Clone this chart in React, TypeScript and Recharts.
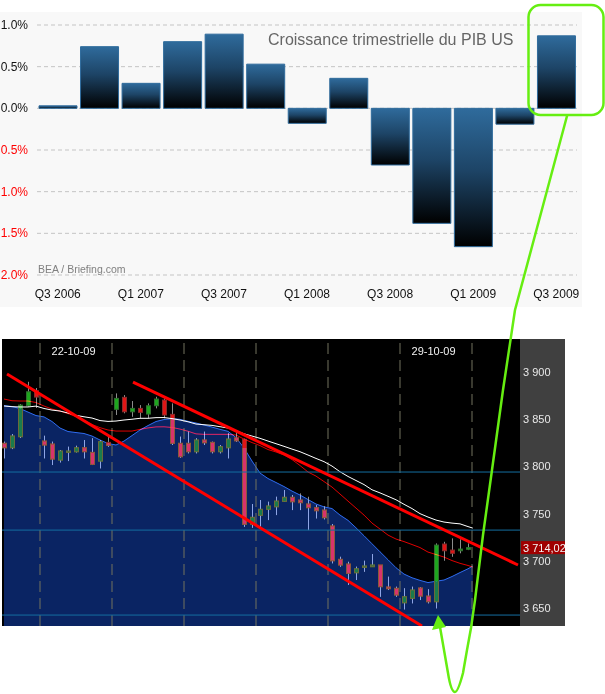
import React from 'react';
import {
  BarChart, Bar, XAxis, YAxis, CartesianGrid, ComposedChart, Area, Line, ReferenceLine,
} from 'recharts';

const FONT = '"Liberation Sans", Arial, sans-serif';

// ---------- Top chart: quarterly US GDP growth ----------
const quarters = ['Q3 2006', 'Q4 2006', 'Q1 2007', 'Q2 2007', 'Q3 2007', 'Q4 2007', 'Q1 2008',
  'Q2 2008', 'Q3 2008', 'Q4 2008', 'Q1 2009', 'Q2 2009', 'Q3 2009'];
const gdpGrowth = [0.03, 0.74, 0.30, 0.80, 0.89, 0.53, -0.18, 0.36, -0.68, -1.38, -1.66, -0.19, 0.87];
const gdpTicks = [1, 0.5, 0, -0.5, -1, -1.5, -2];
const gdpTitle = 'Croissance trimestrielle du PIB US';
const gdpSource = 'BEA / Briefing.com';

// ---------- Bottom chart: hourly candles ----------
const openPx = [3824.5, 3819.8, 3831.5, 3864.3, 3880.2, 3826.9, 3823.7, 3806.8, 3814.9, 3815.6,
  3819.8, 3814.9, 3805.7, 3825.5, 3860.5, 3873.2, 3857.9, 3861.5, 3855.5, 3864.3,
  3870.3, 3855.2, 3824.5, 3824.5, 3815.6, 3828, 3825.5, 3815.6, 3819.8, 3830.4,
  3828.7, 3738.7, 3748.2, 3754.6, 3757.3, 3763, 3767.3, 3764.4, 3760.2, 3756.3,
  3753.8, 3736.9, 3701.6, 3696.6, 3687.4, 3693.1, 3693.8, 3695.6, 3672.3, 3670.9,
  3655.6, 3660.3, 3671.2, 3662.7, 3656.7, 3717.8, 3711.4, 3710.7, 3712.2];
const highPx = [3826.2, 3834.3, 3866.1, 3889.7, 3883.1, 3832.5, 3826.2, 3817.4, 3820.9, 3821.9,
  3828, 3829.8, 3828, 3831.5, 3877.4, 3875.6, 3869.3, 3865, 3866.8, 3873.8,
  3872.1, 3866.8, 3831.5, 3836.8, 3829.8, 3836.8, 3826.2, 3822.7, 3835.1, 3836.8,
  3829.5, 3760.2, 3764.4, 3762.6, 3767.9, 3775, 3769.7, 3771.5, 3767.9, 3759.1,
  3758.1, 3739, 3704.3, 3699, 3693.8, 3700.1, 3707.2, 3695.6, 3683.2, 3672.6,
  3670.9, 3672.6, 3671.9, 3669.8, 3718.5, 3720.2, 3723.8, 3722.8, 3718.5];
const lowPx = [3808.6, 3818.4, 3830.1, 3863.2, 3861.9, 3808.6, 3801.5, 3804.3, 3805.7, 3814.9,
  3808.6, 3801.5, 3798, 3820.9, 3854.5, 3856.3, 3852.6, 3851, 3851, 3861.5,
  3851, 3822.7, 3809.2, 3813.9, 3813.9, 3822.7, 3813.9, 3813.9, 3808.6, 3826.2,
  3736.1, 3735.1, 3736.1, 3743.2, 3748.5, 3762.6, 3753.8, 3753.8, 3732.6, 3745,
  3744, 3697.4, 3693.8, 3674.4, 3679.7, 3688.5, 3693.8, 3662, 3669.1, 3662,
  3648.6, 3655, 3658.5, 3655, 3649.7, 3700.1, 3704.3, 3708, 3711.4];
const closePx = [3819.8, 3832.2, 3865, 3879.1, 3873.5, 3822.7, 3807.8, 3816.3, 3816.3, 3819.8,
  3815.6, 3802.2, 3826.2, 3822.4, 3872.1, 3857.9, 3861.5, 3857.3, 3864.3, 3871.4,
  3854.5, 3824.5, 3810.3, 3815.6, 3828, 3825.1, 3815.6, 3820.9, 3829, 3827.2,
  3738.7, 3746.1, 3754.6, 3758.1, 3763.3, 3767.3, 3762.6, 3761.6, 3756.3, 3753.1,
  3745.7, 3700.1, 3695.6, 3686.8, 3691.6, 3694.5, 3695.6, 3672.6, 3670.5, 3663.8,
  3662, 3669.1, 3662.7, 3656.7, 3716.7, 3710.7, 3708, 3712.5, 3714.02];

// moving averages (last value = end of the last bar)
const blueMa = [3864.5, 3863.5, 3861.3, 3857.6, 3853.9, 3852.5, 3847.6, 3840.7, 3837, 3835.9,
  3834.9, 3832.2, 3828, 3824.3, 3822.7, 3826.9, 3832.7, 3838.6, 3843.3, 3847.6,
  3849.7, 3850.7, 3849.9, 3847.8, 3846, 3843.9, 3841.7, 3839.3, 3837.2, 3830.6,
  3819.5, 3805.7, 3793, 3787.2, 3783, 3778.7, 3773.9, 3769.7, 3765, 3760.2,
  3757.2, 3755.4, 3748.5, 3742.9, 3735, 3726.6, 3718.1, 3709.6, 3701.2, 3692.7,
  3686, 3682.1, 3679.3, 3677, 3678.4, 3679.7, 3683.4, 3687.6, 3691.6, 3694.5];
const whiteMa = [3864, 3863.3, 3863, 3863, 3863.9, 3861.4, 3859.7, 3858.7, 3856.6, 3854.1,
  3852.6, 3851.3, 3848.6, 3847.7, 3848.1, 3849.2, 3850, 3851, 3851, 3851.7,
  3851.8, 3850.7, 3849.2, 3847.3, 3844.9, 3844.2, 3843.5, 3842.1, 3840.7, 3837.9,
  3834.6, 3832.2, 3829.8, 3826.9, 3824.1, 3821.3, 3818.4, 3815.6, 3812.1, 3808.5,
  3805.1, 3800.4, 3794.4, 3789.4, 3785.1, 3780.8, 3775.3, 3772, 3768.4, 3764.7,
  3759.9, 3755.4, 3750, 3746.4, 3743.2, 3741.1, 3740, 3739.2, 3736.3, 3734.7];
const redMa = [3871.4, 3869.6, 3869.3, 3869.3, 3867.7, 3864, 3860.8, 3858.7, 3856, 3852.9,
  3848.9, 3844.4, 3841.1, 3838.6, 3837.5, 3837.5, 3837.5, 3839.3, 3840.8, 3841.9,
  3842, 3841.3, 3839.6, 3837.3, 3834.5, 3834, 3834, 3834, 3834, 3833.3,
  3829, 3825.3, 3822.1, 3817.9, 3815.3, 3812.1, 3807.3, 3801, 3794.1, 3789.8,
  3784, 3778.2, 3770.8, 3763.3, 3755.9, 3748.5, 3740, 3733.7, 3727.3, 3723.1,
  3720.4, 3717.3, 3714.1, 3709.3, 3706.7, 3704, 3700.3, 3697.4, 3695.1, 3693.4];

const SLOTS = 65; // hourly slots on the time axis (incl. empty space on the right)
const maEndTime = 59.1;
const priceTicks = [3650, 3700, 3750, 3800, 3850, 3900];
const priceDomain = [3631, 3935];
const levelLines = [3794.1, 3732.6, 3642.6];
const dayBreaks = [5, 14, 23, 32, 41, 50, 59];
const dateLabelPos = [9.2, 54.2];
const dateLabelText = ['22-10-09', '29-10-09'];
const trendA = [{ x: 0.875, y: 3897.9 }, { x: 52.75, y: 3631 }];
const trendB = [{ x: 16.625, y: 3889.4 }, { x: 64.75, y: 3695.6 }];

// ---------- derived tables ----------
const gdpRows = quarters.map((q, k) => ({ q, v: gdpGrowth[k] }));
const candleRows = Array.from({ length: SLOTS }, (_, i) =>
  i < openPx.length
    ? { i, o: openPx[i], h: highPx[i], l: lowPx[i], c: closePx[i], band: blueMa[i], range: [lowPx[i], highPx[i]] }
    : { i, range: null });
const maRows = blueMa.map((b, k) => ({
  t: k < blueMa.length - 1 ? k + 0.5 : maEndTime, blue: b, white: whiteMa[k], red: redMa[k],
}));
const lastClose = closePx[closePx.length - 1];

const fmtPrice = (v: number, dec: number) => {
  const s = v.toFixed(dec);
  const [int, frac] = s.split('.');
  const intS = int.replace(/\B(?=(\d{3})+(?!\d))/g, ' ');
  return frac ? `${intS},${frac}` : intS;
};

const GdpTick = (p: any) => {
  const v = p.payload.value;
  return (
    <text x={p.x} y={p.y} dy={4} textAnchor="end" fontSize={12} fontFamily={FONT}
      fill={v < 0 ? '#ff0000' : '#111'}>
      {Math.abs(v).toFixed(1)}%
    </text>
  );
};

const makeDateLabel = (text: string) => (p: any) => {
  const vb = p.viewBox || {};
  return (
    <text x={vb.x} y={vb.y + 15.5} textAnchor="middle" fontSize={11} fontFamily={FONT} fill="#f2f2f2">
      {text}
    </text>
  );
};

const OUT = { up: '#1ea61e', upS: '#2d6e2d', dn: '#e01616', dnS: '#8a2a2a', wick: '#8c8c8c' };
const IN = { up: '#1a7c4c', upS: '#6a6a3a', dn: '#d8336c', dnS: '#8a5a3a', wick: '#8fa6e6' };

const Candle = (p: any) => {
  const { x, y, width, height, payload } = p;
  if (!payload || payload.o == null || height == null) return null;
  const top = Math.min(y, y + height);
  const h = Math.abs(height);
  const span = payload.h - payload.l;
  const k = span > 0 ? h / span : 0;
  const py = (v: number) => top + (payload.h - v) * k;
  const up = payload.c >= payload.o;
  const bTop = py(Math.max(payload.o, payload.c));
  const bBot = py(Math.min(payload.o, payload.c));
  const yBand = py(payload.band);
  const cx = Math.floor(x + width / 2) + 0.5;
  const bx = Math.round(x) + 0.5;
  const id = `cin-${payload.i}`;
  const draw = (pal: any) => (
    <>
      <line x1={cx} x2={cx} y1={top} y2={top + h} stroke={pal.wick} strokeWidth={1} />
      <rect x={bx} y={bTop} width={width - 1} height={Math.max(bBot - bTop, 1)}
        fill={up ? pal.up : pal.dn} stroke={up ? pal.upS : pal.dnS} strokeWidth={1} />
    </>
  );
  return (
    <g>
      <defs>
        <clipPath id={id}>
          <rect x={x - 3} y={yBand} width={width + 6} height={600} />
        </clipPath>
      </defs>
      {draw(OUT)}
      <g clipPath={`url(#${id})`}>{draw(IN)}</g>
    </g>
  );
};

const PriceLabel = (p: any) => {
  const vb = p.viewBox || {};
  const rx = vb.x + vb.width + 1;
  return (
    <g>
      <rect x={rx} y={vb.y - 6.5} width={44} height={13} fill="#a00000" />
      <text x={rx + 2} y={vb.y + 4} fontSize={11} fontFamily={FONT} fill="#f4f4f4">
        {fmtPrice(lastClose, 2)}
      </text>
    </g>
  );
};

export default function App() {
  const green = '#66ee11';
  return (
    <div style={{ position: 'absolute', left: 0, top: 0, width: 605, height: 694, background: '#fff', overflow: 'hidden', fontFamily: FONT }}>
      <style>{`.scr { mix-blend-mode: screen; }`}</style>

      {/* top panel */}
      <div style={{ position: 'absolute', left: 0, top: 12, width: 582, height: 295, background: '#f8f8f8' }} />
      <div style={{ position: 'absolute', left: 0, top: 0 }}>
        <BarChart width={582} height={307} data={gdpRows} margin={{ top: 25, right: 5, bottom: 2, left: 0 }}>
          <defs>
            <linearGradient id="gdpGrad" x1="0" y1="0" x2="0" y2="1">
              <stop offset="0" stopColor="#2f6b9c" />
              <stop offset="0.45" stopColor="#1d4466" />
              <stop offset="1" stopColor="#000000" />
            </linearGradient>
          </defs>
          <CartesianGrid vertical={false} stroke="#c4c4c4" strokeDasharray="4 3" />
          <XAxis dataKey="q" interval={1} height={30} axisLine={false} tickLine={false} tickSize={0} tickMargin={14}
            tick={{ fontSize: 12, fill: '#111', fontFamily: FONT }} />
          <YAxis domain={[-2, 1]} ticks={gdpTicks} width={37} axisLine={false} tickLine={false}
            tickSize={0} tickMargin={9} tick={<GdpTick />} />
          <Bar dataKey="v" barSize={38} fill="url(#gdpGrad)" stroke="#2f6b9c" strokeWidth={1}
            isAnimationActive={false} />
        </BarChart>
      </div>
      <div style={{ position: 'absolute', left: 268, top: 31, fontSize: 16, lineHeight: '18px', color: '#666', whiteSpace: 'nowrap' }}>
        {gdpTitle}
      </div>
      <div style={{ position: 'absolute', left: 38, top: 263, fontSize: 10.5, lineHeight: '12px', color: '#808080', whiteSpace: 'nowrap' }}>
        {gdpSource}
      </div>

      {/* bottom chart */}
      <div style={{ position: 'absolute', left: 2, top: 339, width: 518, height: 287, background: '#000' }} />
      <div style={{ position: 'absolute', left: 520, top: 339, width: 45, height: 287, background: '#404040' }} />
      <div style={{ position: 'absolute', left: 0, top: 339 }}>
        <ComposedChart width={565} height={287} data={candleRows} margin={{ top: 0, right: 0, bottom: 0, left: 0 }}>
          <XAxis xAxisId="cat" dataKey="i" type="category" hide />
          <XAxis xAxisId="num" dataKey="t" type="number" domain={[0, SLOTS]} allowDataOverflow hide />
          <YAxis orientation="right" domain={priceDomain} allowDataOverflow ticks={priceTicks} width={45}
            axisLine={false} tickLine={false} tickSize={0} tickMargin={3}
            tick={{ fontSize: 11, fill: '#e8e8e8', fontFamily: FONT, textAnchor: 'start' }}
            tickFormatter={(v: number) => fmtPrice(v, 0)} />
          <Area xAxisId="num" data={maRows} dataKey="blue" type="linear" stroke="#2f6cf0" strokeWidth={1}
            fill="#0a2463" fillOpacity={1} dot={false} activeDot={false}
            isAnimationActive={false} />
          {dayBreaks.map((d) => (
            <ReferenceLine key={'d' + d} xAxisId="num" x={d} stroke="#73735e" strokeDasharray="11 6" />
          ))}
          <Bar xAxisId="cat" dataKey="range" barSize={5} shape={<Candle />} isAnimationActive={false} />
          <Line xAxisId="num" data={maRows} dataKey="white" type="linear" stroke="#ffffff" strokeWidth={1}
            dot={false} activeDot={false} isAnimationActive={false} />
          <Line xAxisId="num" data={maRows} dataKey="red" type="linear" stroke="#e00000" strokeWidth={1}
            className="scr" dot={false} activeDot={false} isAnimationActive={false} />
          {levelLines.map((v) => (
            <ReferenceLine key={'l' + v} xAxisId="num" y={v} stroke="#146ea0" strokeWidth={1} />
          ))}
          <ReferenceLine xAxisId="num" segment={trendA} stroke="#ff0000" strokeWidth={3} ifOverflow="hidden" />
          <ReferenceLine xAxisId="num" segment={trendB} stroke="#ff0000" strokeWidth={3} ifOverflow="hidden" />
          <ReferenceLine xAxisId="num" y={lastClose} stroke="none" label={<PriceLabel />} />
          {dateLabelPos.map((t, k) => (
            <ReferenceLine key={'t' + t} xAxisId="num" x={t} stroke="none"
              label={makeDateLabel(dateLabelText[k])} />
          ))}
        </ComposedChart>
      </div>
      <div style={{ position: 'absolute', left: 0, top: 339, width: 2, height: 287, background: '#fff' }} />

      {/* hand-drawn highlight */}
      <svg width={605} height={694} style={{ position: 'absolute', left: 0, top: 0, pointerEvents: 'none' }}>
        <rect x={528.5} y={5} width={75} height={110} rx={12} fill="none" stroke={green} strokeWidth={2.5} />
        <path d="M567,116 L541,213 L515,310 L503,390 L492,470 L483,535 L475,600 L471,628 L467,650 L463,673 Q458,692 455,692 Q451,692 448,673 L444,650 L440,627"
          fill="none" stroke={green} strokeWidth={2.5} strokeLinejoin="round" strokeLinecap="round" />
        <polygon points="438,615 432,630 446,627" fill={green} />
      </svg>
    </div>
  );
}
